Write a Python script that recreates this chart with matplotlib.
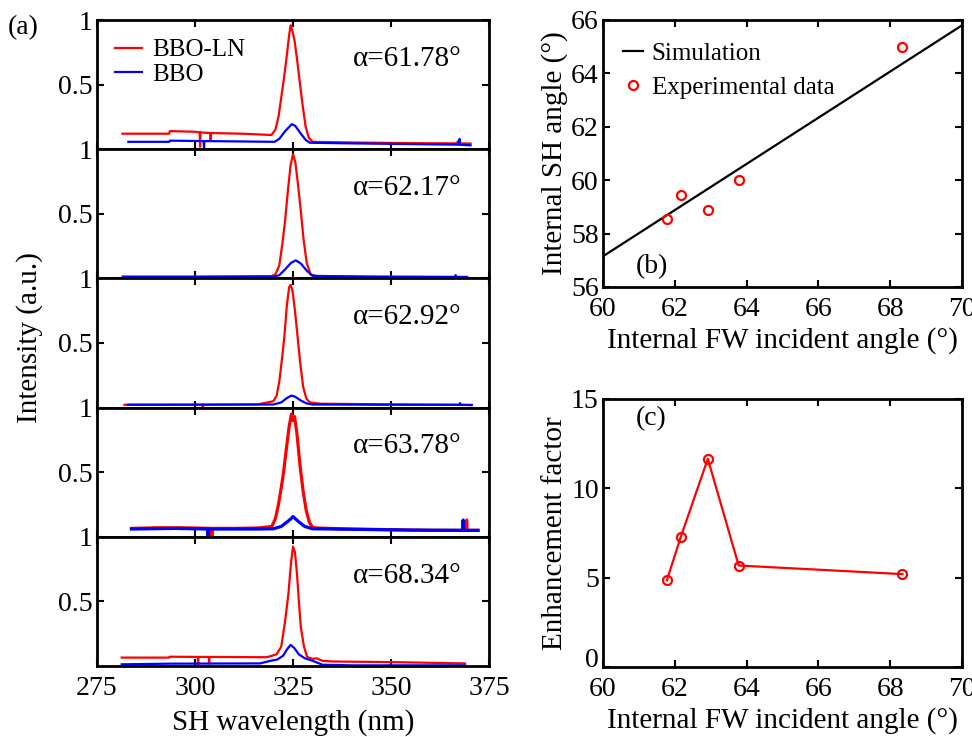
import numpy as np
import matplotlib
matplotlib.use("Agg")
import matplotlib.pyplot as plt
from matplotlib.transforms import ScaledTranslation

plt.rcParams['font.family'] = ['Liberation Serif', 'DejaVu Serif']

# ---- (a) SH spectra, one panel per incident angle ----
angles = ["61.78", "62.17", "62.92", "63.78", "68.34"]

red_6178_x = [281.5, 286, 293.4, 293.6, 300, 301.2, 301.3, 301.4, 303.9, 304.0, 304.1, 312, 319.5,
              320.5, 321.3, 322.0, 322.7, 323.4, 324.0, 324.4, 324.8, 325.4, 326.1, 326.8, 327.5,
              328.2, 329.0, 330.0, 340, 355, 366.9, 367.0, 367.1, 370.3]
red_6178_y = [0.12, 0.12, 0.12, 0.14, 0.135, 0.13, 0.018, 0.13, 0.125, 0.07, 0.125, 0.12, 0.11,
              0.15, 0.25, 0.4, 0.55, 0.72, 0.88, 0.96, 0.92, 0.84, 0.68, 0.5, 0.33,
              0.18, 0.09, 0.057, 0.052, 0.047, 0.045, 0.06, 0.045, 0.044]
blue_6178_x = [283, 293.4, 293.6, 302.2, 302.3, 302.4, 320.3, 321.5, 323, 324.7, 325.6, 327,
               328.3, 329.3, 340, 367.4, 367.5, 367.6, 370.3]
blue_6178_y = [0.057, 0.057, 0.066, 0.063, 0.0, 0.063, 0.057, 0.08, 0.14, 0.194, 0.18, 0.12,
               0.07, 0.05, 0.045, 0.035, 0.08, 0.035, 0.03]

red_6217_x = [281.6, 300, 319.5, 320.5, 321.5, 322.3, 323.0, 323.7, 324.4, 325.0, 325.6, 326.3,
              327.0, 327.7, 328.5, 329.5, 331, 350, 369.4]
red_6217_y = [0.015, 0.015, 0.018, 0.03, 0.1, 0.27, 0.45, 0.68, 0.88, 0.96, 0.9, 0.72,
              0.52, 0.3, 0.12, 0.03, 0.018, 0.015, 0.012]
blue_6217_x = [281.6, 300, 320, 321.5, 323, 324.5, 325.7, 327, 328.5, 330, 345, 366.4, 366.5,
               366.6, 369.4]
blue_6217_y = [0.01, 0.01, 0.012, 0.025, 0.07, 0.12, 0.14, 0.115, 0.06, 0.02, 0.01, 0.01, 0.025,
               0.01, 0.01]

red_6292_x = [282, 301.9, 302.0, 302.1, 316, 318.5, 320.0, 320.8, 321.5, 322.2, 322.8, 323.4,
              324.0, 324.4, 324.9, 325.5, 326.2, 326.9, 327.6, 328.4, 329.3, 332, 350, 370.5]
red_6292_y = [0.022, 0.022, 0.0, 0.022, 0.025, 0.04, 0.05, 0.09, 0.2, 0.38, 0.55, 0.78,
              0.93, 0.95, 0.9, 0.75, 0.54, 0.33, 0.16, 0.07, 0.04, 0.03, 0.025, 0.02]
blue_6292_x = [282.9, 320, 322, 323.5, 324.6, 325.5, 327, 328.5, 330, 350, 367.5, 367.6, 367.7,
               370.6]
blue_6292_y = [0.022, 0.024, 0.04, 0.075, 0.093, 0.085, 0.055, 0.032, 0.024, 0.022, 0.022, 0.035,
               0.022, 0.02]

red_6378_x = [283.8, 290, 296, 300, 304.2, 304.3, 304.4, 310, 316, 319.6, 320.5, 321.3, 322.0,
              322.6, 323.3, 324.0, 324.6, 325.0, 325.4, 326.0, 326.8, 327.6, 328.4, 329.2, 330.0,
              331, 340, 350, 360, 369.2, 369.3, 369.4, 372.2]
red_6378_y = [0.065, 0.07, 0.07, 0.068, 0.065, -0.01, 0.065, 0.065, 0.068, 0.08, 0.14, 0.25, 0.38,
              0.5, 0.68, 0.85, 0.95, 0.9, 0.93, 0.8, 0.55, 0.35, 0.2, 0.11, 0.075,
              0.068, 0.06, 0.055, 0.05, 0.05, 0.13, 0.05, 0.05]
blue_6378_x = [283.8, 295, 303.2, 303.3, 303.4, 315, 320, 322, 323.5, 324.5, 325.0, 325.6, 326.5,
               328, 330, 340, 355, 368.3, 368.4, 368.5, 372.2]
blue_6378_y = [0.06, 0.065, 0.06, 0.0, 0.06, 0.06, 0.062, 0.08, 0.115, 0.14, 0.157, 0.14, 0.115,
               0.08, 0.062, 0.058, 0.052, 0.05, 0.13, 0.05, 0.05]

red_6834_x = [281.3, 293.4, 293.6, 300.7, 300.8, 300.9, 303.5, 303.6, 303.7, 318.3, 320.8, 322.0,
              323.0, 323.8, 324.5, 325.0, 325.5, 326.0, 326.5, 327.0, 327.8, 328.6, 330.0, 331.0,
              332.5, 335, 350, 368.9]
red_6834_y = [0.065, 0.065, 0.072, 0.07, 0.0, 0.07, 0.07, 0.02, 0.07, 0.068, 0.09, 0.15,
              0.35, 0.55, 0.8, 0.925, 0.88, 0.72, 0.5, 0.3, 0.15, 0.07, 0.055, 0.06,
              0.04, 0.035, 0.03, 0.02]
blue_6834_x = [281.3, 293.6, 316.6, 319.2, 321, 322.5, 323.5, 324.4, 325.3, 326.5, 328, 330,
               332.5, 340, 368.9]
blue_6834_y = [0.013, 0.018, 0.02, 0.04, 0.05, 0.08, 0.13, 0.163, 0.14, 0.09, 0.06, 0.04,
               0.01, 0.005, 0.005]

red_x = [red_6178_x, red_6217_x, red_6292_x, red_6378_x, red_6834_x]
red_y = [red_6178_y, red_6217_y, red_6292_y, red_6378_y, red_6834_y]
blue_x = [blue_6178_x, blue_6217_x, blue_6292_x, blue_6378_x, blue_6834_x]
blue_y = [blue_6178_y, blue_6217_y, blue_6292_y, blue_6378_y, blue_6834_y]

# ---- (b) internal SH angle vs FW incident angle ----
sim_x = [60, 70]
sim_y = [57.15, 65.8]
exp_x = [61.78, 62.17, 62.92, 63.78, 68.34]
exp_y = [58.54, 59.44, 58.9, 60.0, 64.98]

# ---- (c) enhancement factor ----
enh_x = [61.78, 62.17, 62.92, 63.78, 68.34]
enh_y = [4.86, 7.3, 11.65, 5.68, 5.2]

W, H = 972, 737
fig = plt.figure(figsize=(W / 100, H / 100), dpi=100)

def frac(x0, y0, x1, y1):
    return [x0 / W, 1 - y1 / H, (x1 - x0) / W, (y1 - y0) / H]

def style(ax):
    for s in ax.spines.values():
        s.set_linewidth(2.0)
    ax.tick_params(direction='in', top=True, right=True, length=5, width=1.5,
                   labelsize=20)
    ax.tick_params(axis='x', pad=7)
    ax.tick_params(axis='y', pad=3)

lab_fs = 21

top, bot = 20, 666
h = (bot - top) / 5
for i in range(5):
    ax = fig.add_axes(frac(97, top + i * h, 489, top + (i + 1) * h))
    style(ax)
    lw = 2.3 if angles[i] == "63.78" else 1.6
    ax.plot(red_x[i], red_y[i], color='#ff0000', lw=lw, label='BBO-LN')
    ax.plot(blue_x[i], blue_y[i], color='#0000ff', lw=lw, label='BBO')
    ax.set_xlim(275, 375)
    ax.set_ylim(0, 1)
    ax.set_xticks([275, 300, 325, 350, 375])
    ax.set_yticks([0.5, 1])
    ax.set_yticklabels(['0.5', '1'])
    ax.text(0.93, 0.70, "α=" + angles[i] + "°", transform=ax.transAxes,
            ha='right', va='center', fontsize=21)
    if i < 4:
        ax.set_xticklabels([])
    else:
        ax.set_xlabel('SH wavelength (nm)', fontsize=lab_fs, labelpad=6)
    if i == 0:
        ax.legend(loc='upper left', bbox_to_anchor=(0.0, 0.99), frameon=False,
                  fontsize=18, handlelength=1.1, handletextpad=0.4, labelspacing=0.08,
                  borderaxespad=0.3)

fig.text(8 / W, 1 - 28 / H, '(a)', fontsize=20, ha='left', va='center')
fig.text(30 / W, 1 - 338 / H, 'Intensity (a.u.)', fontsize=lab_fs, rotation=90,
         ha='center', va='center')

# (b)
axb = fig.add_axes(frac(603, 20, 962, 287))
style(axb)
axb.plot(sim_x, sim_y, color='black', lw=1.6, label='Simulation')
axb.plot(exp_x, exp_y, 'o', ms=6.5, mfc='none', mec='#ff0000', mew=1.6,
         label='Experimental data')
axb.set_xlim(60, 70)
axb.set_ylim(56, 66)
axb.set_xticks([60, 62, 64, 66, 68, 70])
axb.set_yticks([56, 58, 60, 62, 64, 66])
axb.set_xlabel('Internal FW incident angle (°)', fontsize=lab_fs, labelpad=4)
axb.set_ylabel('Internal SH angle (°)', fontsize=lab_fs, labelpad=2)
axb.text(60.9, 56.75, '(b)', fontsize=20, ha='left', va='center')
axb.legend(loc='upper left', bbox_to_anchor=(0.0, 0.99), frameon=False, fontsize=18,
           handlelength=0.8, handletextpad=0.35, labelspacing=0.45, borderaxespad=0.4)

# (c)
axc = fig.add_axes(frac(603, 399, 962, 667))
style(axc)
axc.plot(enh_x, enh_y, '-o', color='#ff0000', lw=1.6, ms=6.5, mfc='none', mew=1.6)
axc.set_xlim(60, 70)
axc.set_ylim(0, 15)
axc.set_xticks([60, 62, 64, 66, 68, 70])
axc.set_yticks([0, 5, 10, 15])
axc.set_xlabel('Internal FW incident angle (°)', fontsize=lab_fs, labelpad=4)
axc.set_ylabel('Enhancement factor', fontsize=lab_fs, labelpad=2)
axc.text(60.9, 13.9, '(c)', fontsize=20, ha='left', va='center')
# lift the "0" label a little like the reference does
zero_lbl = axc.get_yticklabels()[0]
zero_lbl.set_transform(zero_lbl.get_transform() + ScaledTranslation(0, 7 / 72, fig.dpi_scale_trans))

fig.savefig('out.png', dpi=100)
